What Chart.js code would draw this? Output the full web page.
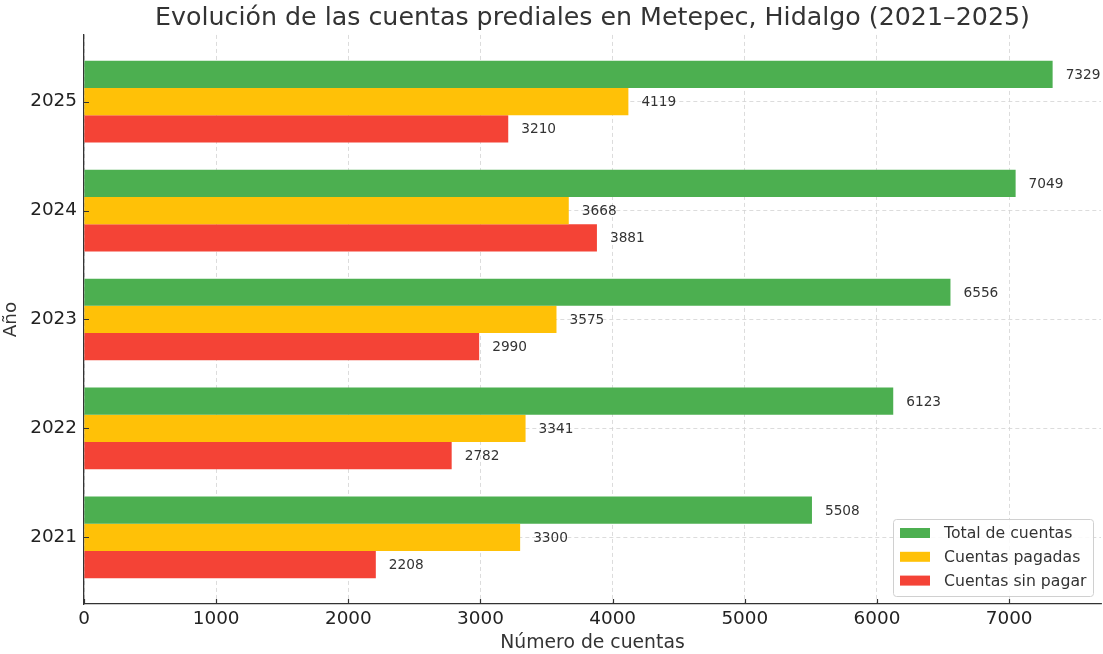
<!DOCTYPE html>
<html>
<head>
<meta charset="utf-8">
<script src="https://cdn.jsdelivr.net/npm/chart.js@4/dist/chart.umd.min.js"></script>
<style>
  html, body { margin: 0; padding: 0; background: #fff; }
  #wrap { width: 1103px; height: 654px; }
</style>
</head>
<body>
<div id="wrap"><canvas id="c" width="1103" height="654"></canvas></div>
<script>
const years = ['2021', '2022', '2023', '2024', '2025'];
const totalCuentas = [5508, 6123, 6556, 7049, 7329];
const cuentasPagadas = [3300, 3341, 3575, 3668, 4119];
const cuentasSinPagar = [2208, 2782, 2990, 3881, 3210];
const xTicks = [0, 1000, 2000, 3000, 4000, 5000, 6000, 7000];
const seriesNames = ['Total de cuentas', 'Cuentas pagadas', 'Cuentas sin pagar'];
const seriesColors = ['#4CAF50', '#FFC107', '#F44336'];

const FONT = "'DejaVu Sans', sans-serif";
const toPoints = arr => arr.map((v, i) => ({ x: v, y: i }));

const valueLabels = {
  id: 'valueLabels',
  afterDatasetsDraw(chart) {
    const ctx = chart.ctx;
    ctx.save();
    ctx.font = '13.7px ' + FONT;
    ctx.fillStyle = '#333';
    ctx.textBaseline = 'middle';
    ctx.textAlign = 'left';
    chart.data.datasets.forEach((ds, di) => {
      chart.getDatasetMeta(di).data.forEach((el, i) => {
        ctx.fillText(String(ds.data[i].x), el.x + 13, el.y + 1);
      });
    });
    ctx.restore();
  }
};

const innerTicks = {
  id: 'innerTicks',
  afterDraw(chart) {
    const ctx = chart.ctx, a = chart.chartArea;
    const xs = chart.scales.x, ys = chart.scales.y;
    ctx.save();
    ctx.strokeStyle = '#333';
    ctx.lineWidth = 1.2;
    ctx.beginPath();
    xTicks.forEach(v => {
      const px = Math.round(xs.getPixelForValue(v)) + 0.5;
      ctx.moveTo(px, a.bottom); ctx.lineTo(px, a.bottom - 5);
    });
    years.forEach((y, i) => {
      const py = Math.round(ys.getPixelForValue(i)) + 0.5;
      ctx.moveTo(a.left, py); ctx.lineTo(a.left + 5, py);
    });
    ctx.stroke();
    ctx.restore();
  }
};

const boxLegend = {
  id: 'boxLegend',
  afterDraw(chart) {
    const ctx = chart.ctx;
    const left = 893, top = 519, w = 200, h = 77, r = 3;
    ctx.save();
    ctx.fillStyle = 'rgba(255,255,255,0.85)';
    ctx.strokeStyle = '#d0d0d0';
    ctx.lineWidth = 1;
    ctx.beginPath();
    ctx.roundRect(left + 0.5, top + 0.5, w, h, r);
    ctx.fill();
    ctx.stroke();
    ctx.font = '15.7px ' + FONT;
    ctx.textBaseline = 'middle';
    ctx.textAlign = 'left';
    chart.data.datasets.forEach((ds, i) => {
      const cy = top + 14 + i * 23.8;
      ctx.fillStyle = ds.backgroundColor;
      ctx.fillRect(900, cy - 5, 30, 10);
      ctx.fillStyle = '#333';
      ctx.fillText(ds.label, 944, cy + 1);
    });
    ctx.restore();
  }
};

const datasets = [totalCuentas, cuentasPagadas, cuentasSinPagar].map((arr, k) => ({
  label: seriesNames[k],
  data: toPoints(arr),
  backgroundColor: seriesColors[k],
  borderWidth: 0,
  categoryPercentage: 0.75,
  barPercentage: 1.0
}));

new Chart(document.getElementById('c'), {
  type: 'bar',
  data: { datasets },
  options: {
    indexAxis: 'y',
    responsive: false,
    animation: false,
    devicePixelRatio: 1,
    layout: { padding: { left: 0, right: 2, top: 0, bottom: 0 } },
    plugins: {
      legend: { display: false },
      tooltip: { enabled: false },
      title: {
        display: true,
        fullSize: false,
        text: 'Evolución de las cuentas prediales en Metepec, Hidalgo (2021–2025)',
        color: '#333',
        font: { family: FONT, size: 25.3, weight: 'normal' },
        padding: { top: 3, bottom: 1.6 }
      }
    },
    scales: {
      x: {
        type: 'linear',
        min: 0,
        max: 7695,
        afterBuildTicks: s => { s.ticks = xTicks.map(v => ({ value: v })); },
        afterFit: s => { s.height = 50; },
        ticks: {
          color: '#222',
          font: { family: FONT, size: 18.4 },
          padding: 4,
          maxRotation: 0,
          callback: v => String(v)
        },
        grid: { color: '#d3d3d3', lineWidth: 0.8, drawTicks: false },
        border: { display: true, color: '#333', width: 1.3, dash: [4, 3] },
        title: {
          display: true,
          text: 'Número de cuentas',
          color: '#333',
          font: { family: FONT, size: 18.8 },
          padding: { top: 0, bottom: 0 }
        }
      },
      y: {
        type: 'linear',
        offset: false,
        min: -0.6125,
        max: 4.6125,
        afterBuildTicks: s => { s.ticks = years.map((y, i) => ({ value: i })); },
        afterFit: s => { s.width = 84; },
        ticks: {
          color: '#222',
          font: { family: FONT, size: 18.4 },
          padding: 7,
          callback: v => years[v]
        },
        grid: { color: '#d3d3d3', lineWidth: 0.8, drawTicks: false, offset: false },
        border: { display: true, color: '#333', width: 1.3, dash: [4, 3] },
        title: {
          display: true,
          text: 'Año',
          color: '#333',
          font: { family: FONT, size: 18.4 },
          padding: { top: 0, bottom: 0 }
        }
      }
    }
  },
  plugins: [valueLabels, innerTicks, boxLegend]
});
</script>
</body>
</html>
